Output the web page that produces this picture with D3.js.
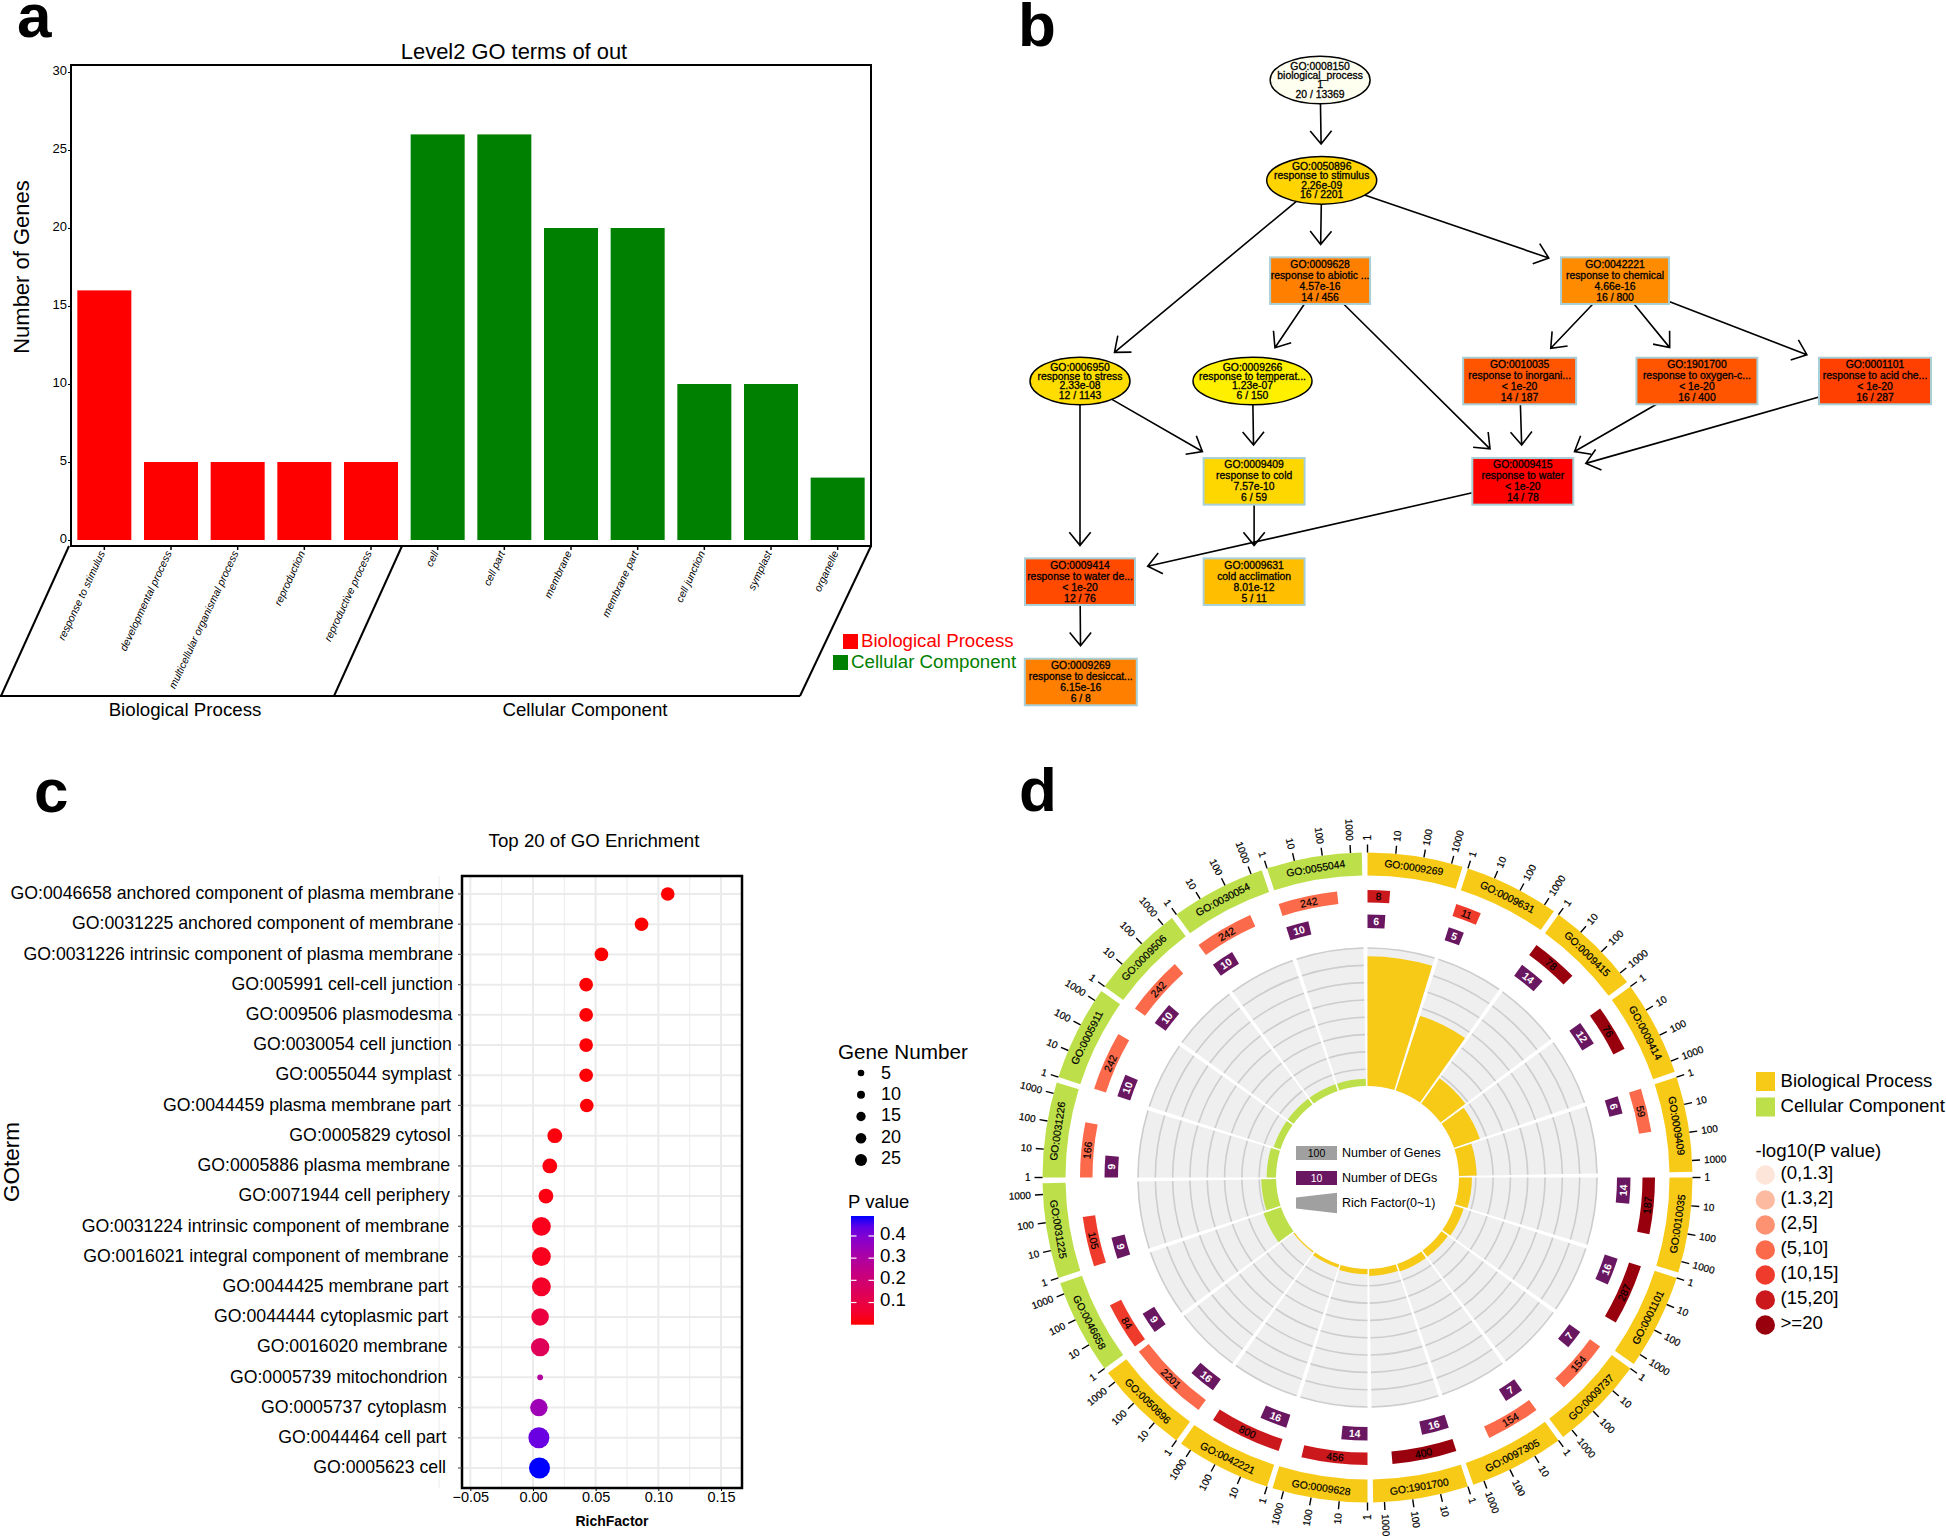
<!DOCTYPE html>
<html>
<head>
<meta charset="utf-8">
<title>GO enrichment</title>
<script src="https://cdn.jsdelivr.net/npm/d3@7"></script>
<style>
    html, body { margin: 0; padding: 0; background: #fff; }
    svg { display: block; }
    text { font-family: 'Liberation Sans', Arial, sans-serif; fill: #000; }
</style>
</head>
<body>
<svg id="fig" width="1946" height="1537"></svg>
<script>
//PANEL A data
var levelCategories = ['response to stimulus', 'developmental process', 'multicellular organismal process', 'reproduction', 'reproductive process',
    'cell', 'cell part', 'membrane', 'membrane part', 'cell junction', 'symplast', 'organelle'];
var levelCounts = [16, 5, 5, 5, 5, 26, 26, 20, 20, 10, 10, 4];
var levelGroups = ['BP', 'BP', 'BP', 'BP', 'BP', 'CC', 'CC', 'CC', 'CC', 'CC', 'CC', 'CC'];
var levelTicks = [0, 5, 10, 15, 20, 25, 30];

//PANEL B data
var nodeIds = ['GO:0008150', 'GO:0050896', 'GO:0009628', 'GO:0042221', 'GO:0006950', 'GO:0009266', 'GO:0010035',
    'GO:1901700', 'GO:0001101', 'GO:0009409', 'GO:0009415', 'GO:0009414', 'GO:0009631', 'GO:0009269'];
var nodeNames = ['biological_process', 'response to stimulus', 'response to abiotic ...', 'response to chemical', 'response to stress',
    'response to temperat...', 'response to inorgani...', 'response to oxygen-c...', 'response to acid che...', 'response to cold',
    'response to water', 'response to water de...', 'cold acclimation', 'response to desiccat...'];
var nodeP = ['1', '2.26e-09', '4.57e-16', '4.66e-16', '2.33e-08', '1.23e-07', '< 1e-20', '< 1e-20', '< 1e-20', '7.57e-10', '< 1e-20', '< 1e-20', '8.01e-12', '6.15e-16'];
var nodeCounts = ['20 / 13369', '16 / 2201', '14 / 456', '16 / 800', '12 / 1143', '6 / 150', '14 / 187', '16 / 400', '16 / 287', '6 / 59', '14 / 78', '12 / 76', '5 / 11', '6 / 8'];
var nodeFills = ['#fffff0', '#ffd400', '#ff8000', '#ff8c00', '#ffdd00', '#fff000', '#ff5500', '#ff5500', '#ff4000', '#ffd700', '#ff0000', '#ff4a00', '#ffbf00', '#ff8000'];
var ellipseNodes = ['GO:0008150', 'GO:0050896', 'GO:0006950', 'GO:0009266'];
var edgeFrom = ['GO:0008150', 'GO:0050896', 'GO:0050896', 'GO:0050896', 'GO:0009628', 'GO:0009628', 'GO:0042221', 'GO:0042221', 'GO:0042221',
    'GO:0006950', 'GO:0006950', 'GO:0009266', 'GO:0010035', 'GO:1901700', 'GO:0001101', 'GO:0009409', 'GO:0009415', 'GO:0009414'];
var edgeTo = ['GO:0050896', 'GO:0009628', 'GO:0042221', 'GO:0006950', 'GO:0009266', 'GO:0009415', 'GO:0010035', 'GO:1901700', 'GO:0001101',
    'GO:0009409', 'GO:0009414', 'GO:0009409', 'GO:0009415', 'GO:0009415', 'GO:0009415', 'GO:0009631', 'GO:0009414', 'GO:0009269'];
// graph layout, the dot layout has no data axis: rank, column and box width of every node
var nodeRank = [0, 1, 2, 2, 3, 3, 3, 3, 3, 4, 4, 5, 5, 6];
var nodeColumn = [30.2, 30.4, 30.2, 67.3, 0, 21.7, 55.3, 77.6, 100, 21.9, 55.7, 0, 21.9, 0.1];
var nodeBoxWidth = [100, 110, 100, 108, 100, 119, 113, 121, 112, 101, 101, 110, 101, 112];

//PANEL C data
var enrichTerms = ['GO:0046658 anchored component of plasma membrane', 'GO:0031225 anchored component of membrane', 'GO:0031226 intrinsic component of plasma membrane',
    'GO:005991 cell-cell junction', 'GO:009506 plasmodesma', 'GO:0030054 cell junction', 'GO:0055044 symplast', 'GO:0044459 plasma membrane part',
    'GO:0005829 cytosol', 'GO:0005886 plasma membrane', 'GO:0071944 cell periphery', 'GO:0031224 intrinsic component of membrane',
    'GO:0016021 integral component of membrane', 'GO:0044425 membrane part', 'GO:0044444 cytoplasmic part', 'GO:0016020 membrane',
    'GO:0005739 mitochondrion', 'GO:0005737 cytoplasm', 'GO:0044464 cell part', 'GO:0005623 cell'];
var enrichRich = [0.1075, 0.0866, 0.0546, 0.0424, 0.0424, 0.0424, 0.0424, 0.0429, 0.0174, 0.0134, 0.0103, 0.0067, 0.0067, 0.0067, 0.0057, 0.0057, 0.0057, 0.0047, 0.0047, 0.0052];
var enrichGenes = [11, 11, 11, 11, 11, 11, 11, 11, 13, 13, 13, 21, 21, 21, 18, 20, 2, 18, 26, 26];
var enrichP = [0, 0, 0.002, 0.003, 0.004, 0.004, 0.005, 0.005, 0.01, 0.012, 0.015, 0.025, 0.03, 0.045, 0.09, 0.14, 0.29, 0.34, 0.43, 0.49];
var enrichXTicks = [-0.05, 0, 0.05, 0.1, 0.15];
var enrichXMinor = [-0.075, -0.025, 0.025, 0.075, 0.125];
var geneLegendValues = [5, 10, 15, 20, 25];
var pLegendTicks = [0.1, 0.2, 0.3, 0.4];

//PANEL D data, clockwise from 12 o'clock
var circleTerms = ['GO:0009269', 'GO:0009631', 'GO:0009415', 'GO:0009414', 'GO:0009409', 'GO:0010035', 'GO:0001101', 'GO:0009737', 'GO:0097305', 'GO:1901700',
    'GO:0009628', 'GO:0042221', 'GO:0050896', 'GO:0046658', 'GO:0031225', 'GO:0031226', 'GO:0005911', 'GO:0009506', 'GO:0030054', 'GO:0055044'];
var circleGroups = ['BP', 'BP', 'BP', 'BP', 'BP', 'BP', 'BP', 'BP', 'BP', 'BP', 'BP', 'BP', 'BP', 'CC', 'CC', 'CC', 'CC', 'CC', 'CC', 'CC'];
var circleGenes = [8, 11, 78, 76, 59, 187, 287, 154, 154, 400, 456, 800, 2201, 84, 105, 166, 242, 242, 242, 242];
var circleDegs = [6, 5, 14, 12, 6, 14, 16, 7, 7, 16, 14, 16, 16, 9, 9, 9, 10, 10, 10, 10];
var circleLogP = [15.2, 11.1, 20, 20, 9.1, 20, 20, 8, 8, 20, 15.3, 15.3, 8.6, 12, 12, 8, 8, 8, 8, 8];
var circleTicks = [1, 10, 100, 1000];
var logPBreaks = [1.3, 2, 5, 10, 15, 20];
var logPLabels = ['(0,1.3]', '(1.3,2]', '(2,5]', '(5,10]', '(10,15]', '(15,20]', '>=20'];

var RED = '#ff0000', GREEN = '#008000';
var GOLD = '#f7ca18', LIME = '#bde04a', PURPLE = '#6a1762';

var svg = d3.select('#fig');

function label(g, x, y, txt, size, opts) {
    opts = opts || {};
    return g.append('text').attr('x', x).attr('y', y).attr('dy', '.35em')
        .attr('font-size', size)
        .attr('text-anchor', opts.anchor || 'start')
        .attr('font-weight', opts.weight || 'normal')
        .style('fill', opts.fill || '#000')
        .text(txt);
}

// panel letters
label(svg, 17, 15, 'a', 62, {weight: 'bold'});
label(svg, 1018, 24, 'b', 62, {weight: 'bold'});
label(svg, 34, 790, 'c', 62, {weight: 'bold'});
label(svg, 1019, 789, 'd', 62, {weight: 'bold'});

//PANEL A
function drawLevelBars() {
    var g = svg.append('g');
    var x = d3.scaleBand().domain(levelCategories).range([71, 871]).paddingInner(0.19).paddingOuter(0.095);
    var y = d3.scaleLinear().domain([0, 30]).range([540, 72]);
    var top = 65, bottom = 546;

    g.selectAll('rect.bar').data(levelCategories).enter().append('rect')
        .attr('class', 'bar')
        .attr('x', function(d) { return x(d); })
        .attr('width', x.bandwidth())
        .attr('y', function(d, i) { return y(levelCounts[i]); })
        .attr('height', function(d, i) { return y(0) - y(levelCounts[i]); })
        .attr('fill', function(d, i) { return levelGroups[i] === 'BP' ? RED : GREEN; });

    g.append('rect').attr('x', 71).attr('y', top).attr('width', 800).attr('height', bottom - top)
        .attr('fill', 'none').attr('stroke', '#000').attr('stroke-width', 2);

    var yAxis = d3.axisLeft(y).tickValues(levelTicks).tickSize(3).tickPadding(1);
    var ya = g.append('g').attr('transform', 'translate(71,0)').call(yAxis);
    ya.select('.domain').remove();
    ya.selectAll('text').attr('font-size', 13).attr('font-family', null).attr('y', -1.5);

    // slanted x labels
    g.selectAll('line.xtick').data(levelCategories).enter().append('line')
        .attr('class', 'xtick')
        .attr('x1', function(d) { return x(d) + x.bandwidth() / 2; })
        .attr('x2', function(d) { return x(d) + x.bandwidth() / 2; })
        .attr('y1', bottom).attr('y2', bottom + 4)
        .attr('stroke', '#000').attr('stroke-width', 1.5);
    g.selectAll('text.xlab').data(levelCategories).enter().append('text')
        .attr('class', 'xlab')
        .attr('font-size', 10.6)
        .attr('font-style', 'italic')
        .attr('text-anchor', 'end')
        .attr('transform', function(d) { return 'translate(' + (x(d) + x.bandwidth() / 2 + 1) + ',' + (bottom + 7) + ') rotate(-65)'; })
        .text(function(d) { return d; });

    // parallelogram under the plot
    var frameLines = [[69, bottom, 1, 696], [402, bottom, 334, 696], [871, bottom, 800, 696], [0, 696, 800, 696]];
    g.selectAll('line.skew').data(frameLines).enter().append('line')
        .attr('class', 'skew')
        .attr('x1', function(d) { return d[0]; }).attr('y1', function(d) { return d[1]; })
        .attr('x2', function(d) { return d[2]; }).attr('y2', function(d) { return d[3]; })
        .attr('stroke', '#000').attr('stroke-width', 2);

    label(g, 185, 709, 'Biological Process', 18.7, {anchor: 'middle'});
    label(g, 585, 709, 'Cellular Component', 18.7, {anchor: 'middle'});
    label(g, 514, 51, 'Level2 GO terms of out', 21.9, {anchor: 'middle'});
    g.append('text').attr('transform', 'translate(21,267) rotate(-90)').attr('dy', '.35em')
        .attr('text-anchor', 'middle').attr('font-size', 22).text('Number of Genes');

    g.append('rect').attr('x', 843).attr('y', 634).attr('width', 15).attr('height', 15).attr('fill', RED);
    label(g, 861, 640, 'Biological Process', 18.7, {fill: RED});
    g.append('rect').attr('x', 833).attr('y', 655).attr('width', 15).attr('height', 15).attr('fill', GREEN);
    label(g, 851, 661, 'Cellular Component', 18.7, {fill: GREEN});
}

//PANEL B
function drawGraph() {
    var g = svg.append('g');
    var colX = d3.scaleLinear().domain([0, 100]).range([1080, 1875]);
    var rankY = d3.scaleLinear().domain([0, 6]).range([80, 682]);
    var halfH = 23.3;

    var nodes = nodeIds.map(function(id, i) {
        return {
            id: id, i: i,
            x: colX(nodeColumn[i]), y: rankY(nodeRank[i]),
            hw: nodeBoxWidth[i] / 2,
            ellipse: ellipseNodes.indexOf(id) >= 0
        };
    });
    var byId = {};
    nodes.forEach(function(n) { byId[n.id] = n; });

    // distance from the node center to its border along (dx,dy), as a fraction
    function borderFrac(n, dx, dy) {
        if (n.ellipse) {
            return 1 / Math.sqrt(dx * dx / (n.hw * n.hw) + dy * dy / (halfH * halfH));
        }
        return Math.min(n.hw / Math.abs(dx || 1e-6), halfH / Math.abs(dy || 1e-6));
    }

    edgeFrom.forEach(function(from, k) {
        var a = byId[from], b = byId[edgeTo[k]];
        var dx = b.x - a.x, dy = b.y - a.y;
        var len = Math.sqrt(dx * dx + dy * dy);
        var fa = borderFrac(a, dx, dy), fb = 1 - borderFrac(b, dx, dy) - 13 / len;
        var x1 = a.x + dx * fa, y1 = a.y + dy * fa;
        var x2 = a.x + dx * fb, y2 = a.y + dy * fb;
        var ang = Math.atan2(dy, dx);
        var barb = 17, spread = 0.68;
        var path = d3.path();
        path.moveTo(x1, y1);
        path.lineTo(x2, y2);
        path.moveTo(x2 - barb * Math.cos(ang - spread), y2 - barb * Math.sin(ang - spread));
        path.lineTo(x2, y2);
        path.lineTo(x2 - barb * Math.cos(ang + spread), y2 - barb * Math.sin(ang + spread));
        g.append('path').attr('d', path.toString()).attr('fill', 'none').attr('stroke', '#000').attr('stroke-width', 1.6);
    });

    nodes.forEach(function(n) {
        var lineGap;
        if (n.ellipse) {
            lineGap = 9.4;
            g.append('ellipse').attr('cx', n.x).attr('cy', n.y).attr('rx', n.hw).attr('ry', halfH + 0.5)
                .attr('fill', nodeFills[n.i]).attr('stroke', '#000').attr('stroke-width', 1.5);
        } else {
            lineGap = 11;
            g.append('rect').attr('x', n.x - n.hw).attr('y', n.y - halfH).attr('width', n.hw * 2).attr('height', halfH * 2)
                .attr('fill', nodeFills[n.i]).attr('stroke', '#a9cfd6').attr('stroke-width', 2);
        }
        [n.id, nodeNames[n.i], nodeP[n.i], nodeCounts[n.i]].forEach(function(t, j) {
            label(g, n.x, n.y + (j - 1.5) * lineGap, t, 10.4, {anchor: 'middle'})
                .style('stroke', '#000').style('stroke-width', 0.3);
        });
    });
}

//PANEL C
function drawDotPlot() {
    var g = svg.append('g');
    var left = 462, right = 742, top = 876, bottom = 1488;
    var x = d3.scaleLinear().domain([0, 0.15]).range([533, 721]);
    var y = d3.scalePoint().domain(enrichTerms).range([894, 1468]);
    var r = d3.scaleSqrt().domain([0, 26]).range([0, 10.5]);
    // ggplot blends the gradient in Lab
    var color = d3.scaleLinear().domain([0, 0.49]).range(['#ff0000', '#0000ff']).interpolate(d3.interpolateLab);
    var labelEnd = d3.scaleLinear().domain([0, enrichTerms.length - 1]).range([454, 446]);

    // grid
    g.selectAll('line.vmin').data(enrichXMinor).enter().append('line').attr('class', 'vmin')
        .attr('x1', function(d) { return x(d); }).attr('x2', function(d) { return x(d); })
        .attr('y1', top).attr('y2', bottom).attr('stroke', '#efefef').attr('stroke-width', 1.2);
    g.selectAll('line.vmaj').data(enrichXTicks).enter().append('line').attr('class', 'vmaj')
        .attr('x1', function(d) { return x(d); }).attr('x2', function(d) { return x(d); })
        .attr('y1', top).attr('y2', bottom).attr('stroke', '#ebebeb').attr('stroke-width', 2);
    g.selectAll('line.hmaj').data(enrichTerms).enter().append('line').attr('class', 'hmaj')
        .attr('x1', left).attr('x2', right)
        .attr('y1', function(d) { return y(d); }).attr('y2', function(d) { return y(d); })
        .attr('stroke', '#ebebeb').attr('stroke-width', 2);

    g.selectAll('circle.dot').data(enrichTerms).enter().append('circle').attr('class', 'dot')
        .attr('cx', function(d, i) { return x(enrichRich[i]); })
        .attr('cy', function(d) { return y(d); })
        .attr('r', function(d, i) { return r(enrichGenes[i]); })
        .attr('fill', function(d, i) { return color(enrichP[i]); });

    g.append('rect').attr('x', left).attr('y', top).attr('width', right - left).attr('height', bottom - top)
        .attr('fill', 'none').attr('stroke', '#000').attr('stroke-width', 2.5);

    // y ticks and labels
    g.selectAll('line.ytick').data(enrichTerms).enter().append('line').attr('class', 'ytick')
        .attr('x1', left - 4).attr('x2', left)
        .attr('y1', function(d) { return y(d); }).attr('y2', function(d) { return y(d); })
        .attr('stroke', '#555').attr('stroke-width', 1.2);
    g.selectAll('text.ylab').data(enrichTerms).enter().append('text').attr('class', 'ylab')
        .attr('x', function(d, i) { return labelEnd(i); })
        .attr('y', function(d) { return y(d) - 1; })
        .attr('dy', '.35em').attr('text-anchor', 'end').attr('font-size', 17.7)
        .text(function(d) { return d; });

    var xa = g.append('g').attr('transform', 'translate(0,' + bottom + ')')
        .call(d3.axisBottom(x).tickValues(enrichXTicks).tickSize(3).tickPadding(1).tickFormat(d3.format('.2f')));
    xa.select('.domain').remove();
    xa.selectAll('text').attr('font-size', 14.5).attr('font-family', null);

    label(g, 612, 1521, 'RichFactor', 14, {anchor: 'middle', weight: 'bold'});
    label(g, 594, 840, 'Top 20 of GO Enrichment', 18.7, {anchor: 'middle'});
    g.append('text').attr('transform', 'translate(11,1162) rotate(-90)').attr('dy', '.35em')
        .attr('text-anchor', 'middle').attr('font-size', 22.5).text('GOterm');

    // gene number legend
    var legendR = d3.scaleLinear().domain([5, 25]).range([3.3, 6]);
    var legendY = d3.scalePoint().domain(geneLegendValues).range([1073, 1160]);
    var legendTextY = d3.scalePoint().domain(geneLegendValues).range([1072.5, 1157.7]);
    label(g, 838, 1052, 'Gene Number', 20.7);
    g.selectAll('circle.leg').data(geneLegendValues).enter().append('circle').attr('class', 'leg')
        .attr('cx', 861).attr('cy', function(d) { return legendY(d); })
        .attr('r', function(d) { return legendR(d); }).attr('fill', '#000');
    g.selectAll('text.leg').data(geneLegendValues).enter().append('text').attr('class', 'leg')
        .attr('x', 881).attr('y', function(d) { return legendTextY(d); }).attr('dy', '.35em')
        .attr('font-size', 18).text(function(d) { return d; });

    // p value colour bar
    label(g, 848, 1202, 'P value', 18.5);
    var defs = svg.append('defs');
    var grad = defs.append('linearGradient').attr('id', 'pgrad').attr('x1', 0).attr('x2', 0).attr('y1', 1).attr('y2', 0);
    d3.range(0, 1.01, 0.1).forEach(function(f) {
        grad.append('stop').attr('offset', (f * 100) + '%').attr('stop-color', color(f * 0.49));
    });
    var pY = d3.scaleLinear().domain([0, 0.49]).range([1324.7, 1216]);
    g.append('rect').attr('x', 851).attr('y', pY(0.49)).attr('width', 23).attr('height', pY(0) - pY(0.49)).attr('fill', 'url(#pgrad)');
    pLegendTicks.forEach(function(t) {
        g.append('line').attr('x1', 851).attr('x2', 856.5).attr('y1', pY(t)).attr('y2', pY(t)).attr('stroke', '#fff').attr('stroke-width', 1.2);
        g.append('line').attr('x1', 868.5).attr('x2', 874).attr('y1', pY(t)).attr('y2', pY(t)).attr('stroke', '#fff').attr('stroke-width', 1.2);
        label(g, 880, pY(t) - 3, t.toFixed(1), 18.7);
    });
}

//PANEL D
function drawCircle() {
    var cx = 1367.5, cy = 1177.5;
    var g = svg.append('g').attr('transform', 'translate(' + cx + ',' + cy + ')');
    var sectorDeg = 18, gapDeg = 1;
    var rad = Math.PI / 180;
    var ringIn = 302, ringOut = 325;
    var geneIn = 275, geneOut = 287.5;
    var degIn = 249.5, degOut = 263;
    var richIn = 91.5, richOut = 230, gridCount = 8;

    var logAngle = d3.scaleLog().domain([1, 1000]).range([0, 15]);
    var richR = d3.scaleLinear().domain([0, 0.8]).range([richIn, richOut]);
    var pColor = d3.scaleThreshold().domain(logPBreaks).range(d3.schemeReds[7]);
    var arc = d3.arc();
    var inkWidth = 0.2;

    function startOf(i) { return i * sectorDeg; }
    function endOf(i) { return startOf(i) + sectorDeg - gapDeg; }
    function wedge(r0, r1, a0, a1) {
        return arc({innerRadius: r0, outerRadius: r1, startAngle: a0 * rad, endAngle: a1 * rad});
    }
    function polar(r, a) {
        return [r * Math.sin(a * rad), -r * Math.cos(a * rad)];
    }
    // text follows the circle and stays readable
    function bendText(r, a) {
        var p = polar(r, a);
        var rot = (a > 90 && a < 270) ? a - 180 : a;
        return 'translate(' + p[0] + ',' + p[1] + ') rotate(' + rot + ')';
    }

    circleTerms.forEach(function(term, i) {
        var a0 = startOf(i), a1 = endOf(i), mid = (a0 + a1) / 2;
        var fill = circleGroups[i] === 'BP' ? GOLD : LIME;

        // outer ring
        g.append('path').attr('d', wedge(ringIn, ringOut, a0, a1)).attr('fill', fill);
        g.append('text').attr('transform', bendText((ringIn + ringOut) / 2, mid)).attr('dy', '.35em')
            .attr('text-anchor', 'middle').attr('font-size', 10.4)
            .style('stroke', '#000').style('stroke-width', inkWidth).text(term);

        circleTicks.forEach(function(t) {
            var a = a0 + logAngle(t);
            var p1 = polar(ringOut, a), p2 = polar(ringOut + 8, a), p3 = polar(ringOut + 12, a);
            g.append('line').attr('x1', p1[0]).attr('y1', p1[1]).attr('x2', p2[0]).attr('y2', p2[1])
                .attr('stroke', '#000').attr('stroke-width', 1.4);
            var rightSide = a < 180;
            g.append('text')
                .attr('transform', 'translate(' + p3[0] + ',' + p3[1] + ') rotate(' + (rightSide ? a - 90 : a + 90) + ')')
                .attr('dy', '.35em').attr('text-anchor', rightSide ? 'start' : 'end')
                .attr('font-size', 10).style('stroke', '#000').style('stroke-width', inkWidth).text(t);
        });

        // number of genes
        var geneEnd = a0 + logAngle(circleGenes[i]);
        g.append('path').attr('d', wedge(geneIn, geneOut, a0, geneEnd)).attr('fill', pColor(circleLogP[i]));
        g.append('text').attr('transform', bendText((geneIn + geneOut) / 2, (a0 + geneEnd) / 2)).attr('dy', '.35em')
            .attr('text-anchor', 'middle').attr('font-size', 10.4)
            .style('stroke', '#000').style('stroke-width', inkWidth).text(circleGenes[i]);

        // number of DEGs
        var degEnd = a0 + logAngle(circleDegs[i]);
        g.append('path').attr('d', wedge(degIn, degOut, a0, degEnd)).attr('fill', PURPLE);
        g.append('text').attr('transform', bendText((degIn + degOut) / 2, (a0 + degEnd) / 2)).attr('dy', '.35em')
            .attr('text-anchor', 'middle').attr('font-size', 10.4).attr('font-weight', 'bold').style('fill', '#fff').text(circleDegs[i]);

        // rich factor
        g.append('path').attr('d', wedge(richIn, richOut, a0, a1)).attr('fill', '#efefef');
        d3.range(1, gridCount + 1).forEach(function(k) {
            var rr = richIn + (richOut - richIn) * k / gridCount;
            g.append('path').attr('d', wedge(rr - 1.3, rr + 0.3, a0, a1)).attr('fill', '#cdcdcd');
        });
        g.append('path').attr('d', wedge(richIn, richR(circleDegs[i] / circleGenes[i]), a0, a1)).attr('fill', fill);
    });

    // legend in the middle of the ring
    var m = svg.append('g');
    m.append('rect').attr('x', 1296).attr('y', 1146).attr('width', 41).attr('height', 14).attr('fill', '#a0a0a0');
    label(m, 1316.5, 1153, '100', 10.5, {anchor: 'middle'});
    label(m, 1342, 1153, 'Number of Genes', 12.5);
    m.append('rect').attr('x', 1296).attr('y', 1171).attr('width', 41).attr('height', 14).attr('fill', PURPLE);
    label(m, 1316.5, 1178, '10', 10.5, {anchor: 'middle', fill: '#fff'});
    label(m, 1342, 1178, 'Number of DEGs', 12.5);
    m.append('polygon').attr('points', '1296,1197.5 1337,1192.7 1337,1213.3 1296,1208.5').attr('fill', '#a0a0a0');
    label(m, 1342, 1203, 'Rich Factor(0~1)', 12.5);

    // legend on the right
    var l = svg.append('g');
    l.append('rect').attr('x', 1756).attr('y', 1072).attr('width', 19).attr('height', 19).attr('fill', GOLD);
    label(l, 1780.5, 1080, 'Biological Process', 18.6);
    l.append('rect').attr('x', 1756).attr('y', 1097.5).attr('width', 19).attr('height', 19).attr('fill', LIME);
    label(l, 1780.5, 1105, 'Cellular Component', 18.6);
    label(l, 1755.5, 1150, '-log10(P value)', 18.6);
    var legendY = d3.scalePoint().domain(logPLabels).range([1175, 1325]);
    l.selectAll('circle').data(logPLabels).enter().append('circle')
        .attr('cx', 1765.3).attr('cy', function(d) { return legendY(d); }).attr('r', 9.7)
        .attr('fill', function(d, i) { return pColor(i === 0 ? 1 : logPBreaks[i - 1]); });
    l.selectAll('text.plab').data(logPLabels).enter().append('text').attr('class', 'plab')
        .attr('x', 1780.5).attr('y', function(d) { return legendY(d) - 3; }).attr('dy', '.35em')
        .attr('font-size', 18.6).text(function(d) { return d; });
}

drawLevelBars();
drawGraph();
drawDotPlot();
drawCircle();
</script>
</body>
</html>
